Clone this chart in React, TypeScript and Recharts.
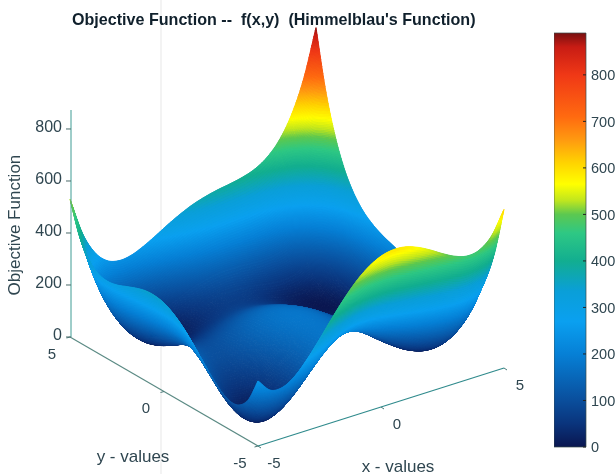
import React from "react";
import { ComposedChart, Scatter, XAxis, YAxis, Bar, Line, ReferenceLine } from "recharts";

const xValues = [-5,-4.5,-4,-3.5,-3,-2.5,-2,-1.5,-1,-0.5,0,0.5,1,1.5,2,2.5,3,3.5,4,4.5,5];
const yValues = [-5,-4.5,-4,-3.5,-3,-2.5,-2,-1.5,-1,-0.5,0,0.5,1,1.5,2,2.5,3,3.5,4,4.5,5];
const zRows = [
  [250,200,196,224,274,335,400,461,514,554,580,590,586,569,544,515,490,476,484,524,610],
  [158,99,86,106,147,201,259,314,360,395,416,422,413,393,365,334,306,291,298,338,423],
  [116,48,26,38,72,119,170,219,260,290,306,308,296,273,242,209,180,164,170,210,296],
  [110,34,4,8,35,76,121,164,200,226,238,236,221,196,163,128,98,82,88,128,215],
  [130,45,8,5,26,60,100,138,170,191,200,195,178,150,116,80,50,33,40,81,170],
  [165,73,29,20,34,63,98,132,159,177,183,176,156,127,92,56,25,9,17,60,150],
  [208,109,58,43,52,76,106,136,160,175,178,169,148,118,82,46,16,1,10,55,148],
  [251,146,89,68,72,92,118,144,165,178,179,168,146,116,80,44,15,2,13,60,156],
  [290,178,116,90,90,105,128,151,170,180,180,168,146,115,80,45,18,6,20,70,170],
  [320,203,136,106,101,113,133,154,170,179,178,166,143,113,79,46,20,11,28,82,185],
  [340,218,146,112,104,113,130,149,164,172,170,158,136,107,74,43,20,14,34,92,200],
  [348,222,146,108,97,104,119,136,150,158,156,144,123,96,65,36,16,14,38,100,213],
  [346,215,136,95,82,86,100,116,130,137,136,125,106,80,52,26,10,11,40,107,226],
  [335,201,119,76,60,63,76,92,105,113,113,104,86,63,38,16,3,9,43,116,240],
  [320,183,98,53,36,38,50,66,80,89,90,83,68,48,26,8,0,11,50,129,260],
  [305,166,79,32,14,16,28,44,59,70,73,68,56,40,22,8,5,22,67,152,290],
  [298,156,68,20,2,3,16,33,50,62,68,66,58,45,32,23,26,48,100,192,338],
  [306,163,74,26,7,9,23,42,60,75,84,86,81,73,65,62,70,99,158,258,411],
  [340,196,106,58,40,43,58,79,100,118,130,136,136,133,130,133,148,184,250,358,520],
  [410,266,176,128,111,116,133,156,180,202,218,228,233,236,239,248,270,314,388,504,675],
  [530,385,296,249,234,240,260,286,314,339,360,375,386,394,404,420,450,501,584,709,890],
];
const zTicks = [0, 200, 400, 600, 800];
const barTicks = [0, 100, 200, 300, 400, 500, 600, 700, 800];
const xTickValues = [-5, 0, 5];
const yTickValues = [-5, 0, 5];
const titleText = "Objective Function --  f(x,y)  (Himmelblau's Function)";

const colorStops: [number, string][] = [
  [0, "#0a1650"], [50, "#0a347c"], [100, "#0a4e9c"], [200, "#0680d6"], [270, "#0aa0f0"],
  [335, "#0a9fd8"], [400, "#12ae90"], [460, "#2ec884"], [500, "#5cc850"], [530, "#c0e61e"],
  [565, "#ffff00"], [610, "#ffd400"], [660, "#ff9a10"], [710, "#ff6a10"], [800, "#f03816"],
  [860, "#c81c14"], [890, "#781010"],
];

const hexToRgb = (h: string) => [1, 3, 5].map((i) => parseInt(h.slice(i, i + 2), 16));
const stopsRgb = colorStops.map(([v, c]) => [v, hexToRgb(c)] as [number, number[]]);
function colorOf(z: number) {
  const v = Math.max(0, Math.min(890, z));
  for (let i = 1; i < stopsRgb.length; i++) {
    const [v1, c1] = stopsRgb[i];
    if (v <= v1) {
      const [v0, c0] = stopsRgb[i - 1];
      const t = (v - v0) / (v1 - v0);
      return `rgb(${c0.map((c, k) => Math.round(c + (c1[k] - c) * t)).join(",")})`;
    }
  }
  return colorStops[colorStops.length - 1][1];
}

// 3-D view of the surface: data coordinates -> page coordinates
const project = (x: number, y: number, z: number) => ({
  sx: 258 + (x + 5) * 24.6 - (y + 5) * 18.8,
  sy: 446 - (x + 5) * 7.8 - (y + 5) * 10.9 - z * 0.26,
});

const catmull = (p0: number, p1: number, p2: number, p3: number, t: number) =>
  0.5 * (2 * p1 + (p2 - p0) * t + (2 * p0 - 5 * p1 + 4 * p2 - p3) * t * t + (3 * p1 - p0 - 3 * p2 + p3) * t * t * t);
const N = xValues.length - 1;
const rowAt = (r: number, c: number) => {
  // linear continuation outside the table for the curve ends
  const rr = Math.max(0, Math.min(N, r));
  const cc = Math.max(0, Math.min(N, c));
  let v = zRows[rr][cc];
  if (r < 0) v += (zRows[0][cc] - zRows[1][cc]);
  if (r > N) v += (zRows[N][cc] - zRows[N - 1][cc]);
  if (c < 0) v += (zRows[rr][0] - zRows[rr][1]);
  if (c > N) v += (zRows[rr][N] - zRows[rr][N - 1]);
  return v;
};
function surf(r: number, c: number, u: number, v: number) {
  const col = (k: number) =>
    catmull(rowAt(k, c - 1), rowAt(k, c), rowAt(k, c + 1), rowAt(k, c + 2), u);
  return catmull(col(r - 1), col(r), col(r + 1), col(r + 2), v);
}

const CellShape = (props: any) => {
  const { cx, cy, payload } = props;
  const { r, c, sx, sy } = payload;
  if (r >= N || c >= N || cx == null) return null;
  const tx = cx - sx;
  const ty = cy - sy;
  const corners = [zRows[r][c], zRows[r][c + 1], zRows[r + 1][c], zRows[r + 1][c + 1]];
  const range = Math.max(...corners) - Math.min(...corners);
  const SUB = Math.max(4, Math.min(18, Math.ceil(range / 7)));
  const step = 0.5 / SUB;
  const pts: any[][] = [];
  for (let j = 0; j <= SUB; j++) {
    pts[j] = [];
    for (let i = 0; i <= SUB; i++) {
      const z = surf(r, c, i / SUB, j / SUB);
      const p = project(xValues[c] + i * step, yValues[r] + j * step, z);
      pts[j][i] = { x: p.sx + tx, y: p.sy + ty, z };
    }
  }
  const out: React.ReactNode[] = [];
  for (let j = SUB - 1; j >= 0; j--) {
    for (let i = SUB - 1; i >= 0; i--) {
      const a = pts[j][i], b = pts[j][i + 1], d = pts[j + 1][i + 1], e = pts[j + 1][i];
      const col = colorOf((a.z + b.z + d.z + e.z) / 4);
      out.push(
        <path key={`${j}-${i}`} d={`M${a.x} ${a.y}L${b.x} ${b.y}L${d.x} ${d.y}L${e.x} ${e.y}Z`}
          fill={col} stroke={col} strokeWidth={1} strokeLinejoin="round" />
      );
    }
  }
  return <g>{out}</g>;
};

// far corner first, so nearer parts of the surface paint over it
const surfaceData: any[] = [];
for (let r = N; r >= 0; r--) {
  for (let c = N; c >= 0; c--) {
    surfaceData.push({ r, c, ...project(xValues[c], yValues[r], zRows[r][c]) });
  }
}

const yAxisLine = yTickValues.map((y) => project(-5, y, 0));
const xAxisLine = xTickValues.map((x) => project(x, -5, 0));
const labelColor = "#2f4650";
const fontFamily = '"Liberation Sans", Arial, sans-serif';

const TickLabel = (props: any) => {
  const { cx, cy, payload } = props;
  const tickDx = payload.axis === "x" ? 3 : -3.5;
  const tickDy = payload.axis === "x" ? 2 : 1;
  return (
    <g>
      <line x1={cx} y1={cy} x2={cx + tickDx} y2={cy + tickDy} stroke="#4a7a78" strokeWidth={1} />
      <text x={cx + payload.dx} y={cy + payload.dy} textAnchor="middle" dominantBaseline="central"
        fontSize={15} fontFamily={fontFamily} fill={labelColor}>{payload.label}</text>
    </g>
  );
};
const AxisTitle = (props: any) => (
  <text x={props.cx + props.payload.dx} y={props.cy + props.payload.dy} textAnchor="middle" dominantBaseline="central"
    fontSize={17} fontFamily={fontFamily} fill={labelColor}>{props.payload.label}</text>
);
const yTickData = yTickValues.map((v) => ({ ...project(-5, v, 0), axis: "y", label: String(v), dx: -18, dy: 16 }));
const xTickData = xTickValues.map((v) => ({ ...project(v, -5, 0), axis: "x", label: String(v), dx: 16, dy: 16 }));
const yTitleData = [{ ...project(-5, 0, 0), label: "y - values", dx: -31, dy: 65 }];
const xTitleData = [{ ...project(0, -5, 0), label: "x - values", dx: 17, dy: 59 }];

const noDot = () => null;

const zData = zTicks.map((z) => ({ z }));
const barData = [{ name: "f", top: 890 }];

export default function App() {
  return (
    <div style={{ position: "absolute", left: 0, top: 0, width: 616, height: 474, background: "#fff", overflow: "hidden", filter: "blur(0.6px)" }}>
      <div style={{ position: "absolute", left: 0, top: 0 }}>
        <ComposedChart width={616} height={474} margin={{ top: 0, right: 0, bottom: 0, left: 0 }}>
          <XAxis type="number" dataKey="sx" domain={[0, 616]} hide />
          <YAxis type="number" dataKey="sy" domain={[0, 474]} reversed hide />
          <Scatter data={surfaceData} shape={CellShape} isAnimationActive={false} />
          <Scatter data={yAxisLine} line={{ stroke: "#5b8a84", strokeWidth: 1.2 }} shape={noDot} isAnimationActive={false} />
          <Scatter data={xAxisLine} line={{ stroke: "#2f8a8c", strokeWidth: 1.2 }} shape={noDot} isAnimationActive={false} />
          <Scatter data={yTickData} shape={TickLabel} isAnimationActive={false} />
          <Scatter data={xTickData} shape={TickLabel} isAnimationActive={false} />
          <Scatter data={yTitleData} shape={AxisTitle} isAnimationActive={false} />
          <Scatter data={xTitleData} shape={AxisTitle} isAnimationActive={false} />
          <ReferenceLine x={161} stroke="rgba(60,60,60,0.12)" strokeWidth={1} />
        </ComposedChart>
      </div>
      <div style={{ position: "absolute", left: 0, top: 0 }}>
        <ComposedChart width={90} height={474} data={zData} margin={{ top: 110, right: 0, bottom: 137, left: 0 }}>
          <XAxis hide />
          <YAxis type="number" domain={[0, 873]} ticks={zTicks} width={71} interval={0}
            stroke="#3f9c94" tickSize={5} tickMargin={4}
            tick={{ fill: labelColor, fontSize: 16, fontFamily, dy: -3 }}
            tickLine={{ stroke: "#4a6a6a" }}
            label={{ value: "Objective Function", angle: -90, position: "insideLeft", dx: 9, dy: 72, fill: labelColor, fontSize: 17, fontFamily }} />
          <Line dataKey="z" stroke="none" dot={false} isAnimationActive={false} />
        </ComposedChart>
      </div>
      <div style={{ position: "absolute", left: 554, top: 0 }}>
        <ComposedChart width={62} height={474} data={barData} barCategoryGap={0} margin={{ top: 33, right: 0, bottom: 27, left: 0 }}>
          <defs>
            <linearGradient id="jetBar" x1="0" y1="1" x2="0" y2="0">
              {colorStops.map(([v, c]) => <stop key={v} offset={v / 890} stopColor={c} />)}
            </linearGradient>
          </defs>
          <XAxis dataKey="name" hide />
          <YAxis type="number" orientation="right" domain={[0, 890]} ticks={barTicks} width={30} interval={0}
            axisLine={false} tickSize={-3} tickMargin={8} tickLine={{ stroke: "#222" }}
            tick={{ fill: labelColor, fontSize: 14.5, fontFamily }} />
          <Bar dataKey="top" fill="url(#jetBar)" stroke="#3a4a4a" strokeWidth={0.7} isAnimationActive={false} />
        </ComposedChart>
      </div>
      <div style={{ position: "absolute", left: 72, top: 10, fontFamily, fontWeight: 700, fontSize: 16.1, color: "#10202c", whiteSpace: "pre" }}>{titleText}</div>
    </div>
  );
}
